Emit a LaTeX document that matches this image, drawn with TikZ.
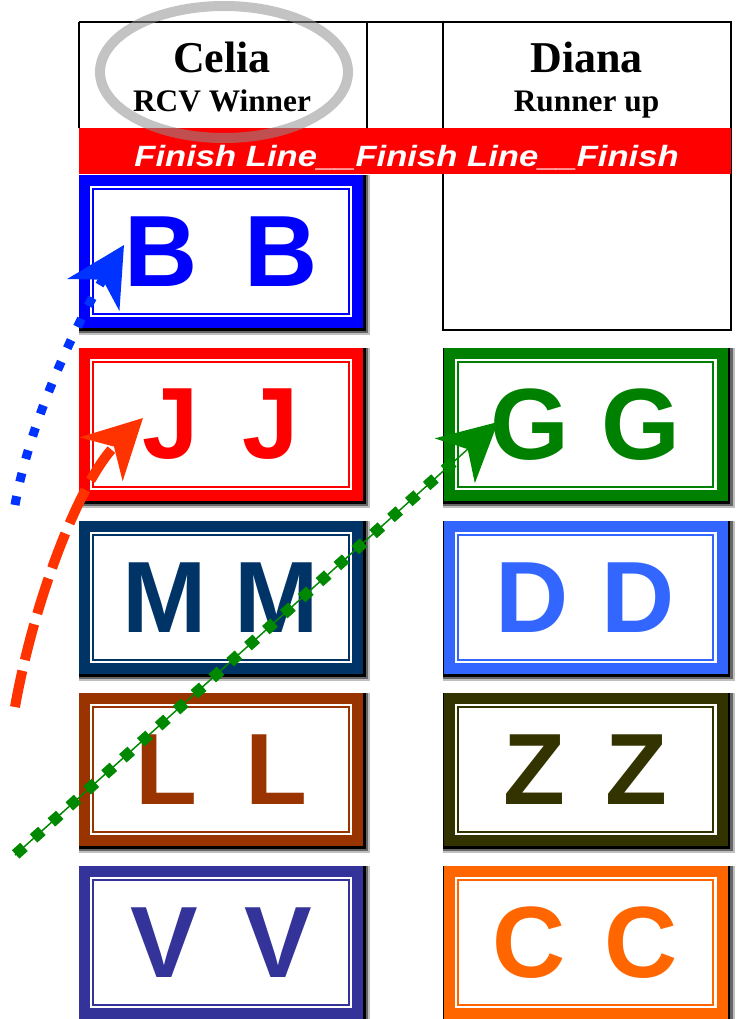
\documentclass[tikz,border=0pt]{standalone}
\usepackage{fontspec}
\setmainfont{Liberation Serif}
\setsansfont{Liberation Sans}
\usepackage{tikz}
\usetikzlibrary{arrows.meta}
\usetikzlibrary{decorations.markings}
\usetikzlibrary{backgrounds}

\definecolor{finishred}{HTML}{FF0000}
\definecolor{colB}{HTML}{0000FF}
\definecolor{colJ}{HTML}{FF0000}
\definecolor{colM}{HTML}{003366}
\definecolor{colL}{HTML}{993300}
\definecolor{colV}{HTML}{333399}
\definecolor{colG}{HTML}{008000}
\definecolor{colD}{HTML}{3366FF}
\definecolor{colZ}{HTML}{333300}
\definecolor{colC}{HTML}{FF6600}
\definecolor{arrowblue}{HTML}{0033FF}
\definecolor{arrowred}{HTML}{FF3300}
\definecolor{arrowgreen}{HTML}{008800}

% two letters in fixed slots
\newcommand{\pair}[2][84pt]{\makebox[#1]{#2}\makebox[#1]{#2}}

\tikzset{
	tableline/.style={line width=1.5pt, line join=miter},
	card/.style={
		rectangle, inner sep=0pt, minimum width=213pt, minimum height=114.75pt,
		fill=#1, text=#1, font=\sffamily\bfseries\fontsize{76}{76}\selectfont,
		path picture={
			\fill[white] ([shift={(8.25pt,8.25pt)}]path picture bounding box.south west)
				rectangle ([shift={(-8.25pt,-8.25pt)}]path picture bounding box.north east);
			\draw[#1, line width=1.2pt] ([shift={(10.7pt,10.7pt)}]path picture bounding box.south west)
				rectangle ([shift={(-10.7pt,-10.7pt)}]path picture bounding box.north east);
		}
	},
	namefont/.style={font=\bfseries\fontsize{33}{33}\selectfont, inner sep=0pt},
	rolefont/.style={font=\bfseries\fontsize{23.5}{23.5}\selectfont, inner sep=0pt},
	finishtext/.style={text=white, inner sep=0pt, font=\sffamily\bfseries\itshape\fontsize{22}{22}\selectfont},
	ring/.style={draw=black!43, line width=7.5pt, opacity=0.55},
	bigtip/.style={-{Stealth[length=43.5pt, width=45pt, inset=13pt]}},
	bluedots/.style={bigtip, draw=arrowblue, line width=6.75pt, dash pattern=on 6.75pt off 11pt},
	reddash/.style={bigtip, draw=arrowred, line width=7.5pt, dash pattern=on 27.75pt off 8.25pt},
	greenbeads/.style={
		bigtip, draw=arrowgreen, line width=1.1pt,
		postaction={
			decorate,
			decoration={
				markings,
				mark=between positions 0.01 and 0.93 step 18pt with {
					\fill[arrowgreen] (-4.2pt,-4.2pt) rectangle (4.2pt,4.2pt);
				}
			}
		}
	}
}

\begin{document}
\begin{tikzpicture}[x=0.75pt, y=-0.75pt]
	\useasboundingbox (0,0) rectangle (746,1019);
	
	% header table
	\draw[tableline] (79,22) -- (731,22) -- (731,330) -- (443,330) -- (443,22);
	\draw[tableline] (79,22) -- (79,128);
	\draw[tableline] (367,22) -- (367,128);
	
	\node[namefont, anchor=base] (celia) at (222,73) {Celia};
	\node[rolefont, anchor=base] (celia role) at (222,112) {RCV Winner};
	\node[namefont, anchor=base] (diana) at (586.5,73) {Diana};
	\node[rolefont, anchor=base] (diana role) at (586.5,112) {Runner up};
	
	\fill[finishred] (79,128) rectangle (731,174);
	\node[finishtext, anchor=base] (finish) at (406.5,167)
		{\scalebox{1.18}[1]{Finish Line\_\_Finish Line\_\_Finish}};
	
	\draw[ring] (224,72) ellipse [x radius=124, y radius=66];
	
	% cards
	\node[card=colB] (bb) at (221,251.5) {\pair[90pt]{B}};
	\node[card=colJ] (jj) at (221,424.5) {\pair[75pt]{J}};
	\node[card=colM] (mm) at (221,597.5) {\pair{M}};
	\node[card=colL] (ll) at (221,769.5) {\pair[82.5pt]{L}};
	\node[card=colV] (vv) at (221,942.5) {\pair[85.5pt]{V}};
	\node[card=colG] (gg) at (585.5,424.5) {\pair[83pt]{G}};
	\node[card=colD] (dd) at (585.5,597.5) {\pair[79.5pt]{D}};
	\node[card=colZ] (zz) at (585.5,769.5) {\pair[77pt]{Z}};
	\node[card=colC] (cc) at (585.5,942.5) {\pair{C}};
	
	\begin{scope}[on background layer]
		\foreach \c in {bb, jj, mm, ll, vv, gg, dd, zz, cc} {
			\fill[black!25] (\c.north west) rectangle ([shift={(5.25pt,-5.25pt)}]\c.south east);
			\fill[black!60] (\c.north west) rectangle ([shift={(3.75pt,-3.75pt)}]\c.south east);
			\fill[black] (\c.north west) rectangle ([shift={(1.9pt,-1.9pt)}]\c.south east);
		}
	\end{scope}
	
	% transfer arrows
	\coordinate (blue start) at (15,505);
	\coordinate (blue tip) at (124,245);
	\coordinate (red start) at (15,707);
	\coordinate (red tip) at (143,418);
	\coordinate (green start) at (15,855);
	\coordinate (green tip) at (498,422);
	
	\draw[bluedots] (blue start) .. controls (30,420) and (78,320) .. (blue tip);
	\draw[reddash] (red start) .. controls (34,600) and (80,480) .. (red tip);
	\draw[greenbeads] (green start) -- (green tip);
\end{tikzpicture}
\end{document}
